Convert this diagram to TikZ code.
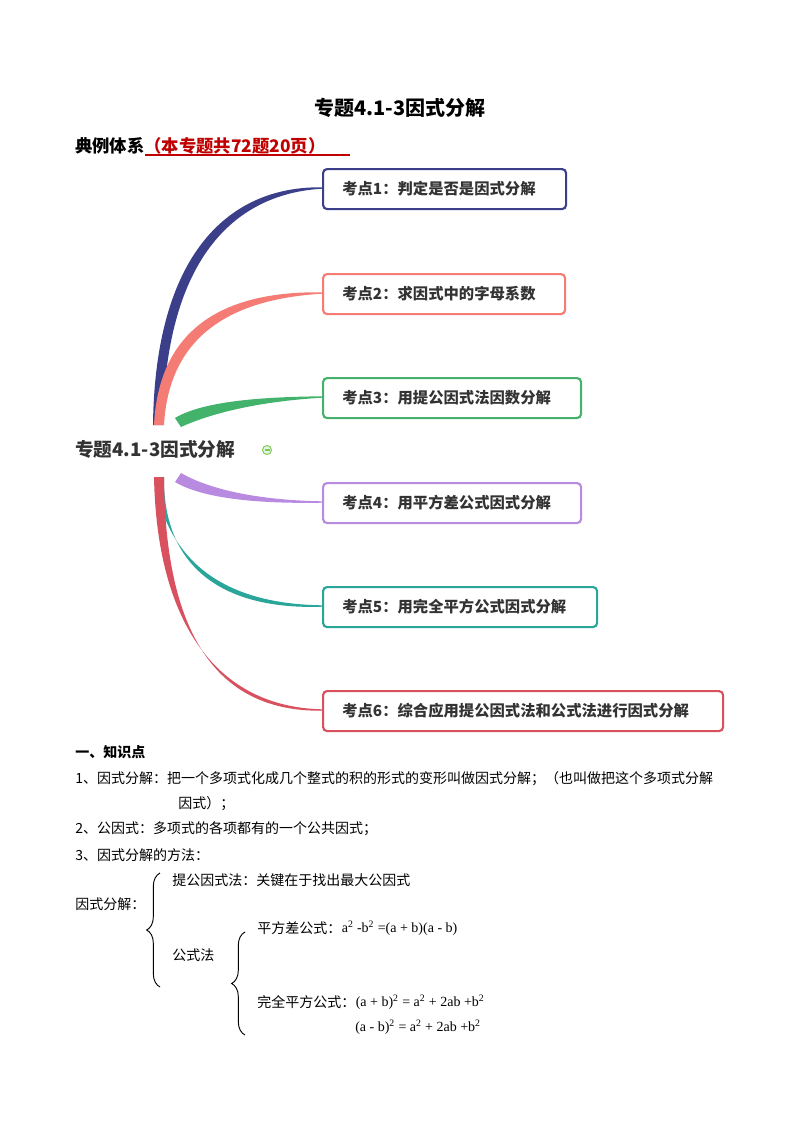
\documentclass[tikz,border=0pt]{standalone}
\usepackage{fontspec}
\setmainfont{Liberation Serif}
\newfontfamily\cjk{Noto Sans CJK SC}
\usetikzlibrary{decorations.pathreplacing}
\definecolor{cA}{HTML}{3B3F8A}
\definecolor{cB}{HTML}{F47C74}
\definecolor{cC}{HTML}{43B36B}
\definecolor{cD}{HTML}{B98BE0}
\definecolor{cE}{HTML}{2AA59A}
\definecolor{cF}{HTML}{D9505F}
\definecolor{tx}{HTML}{333333}
\definecolor{rd}{HTML}{C00000}
\begin{document}
\begin{tikzpicture}[x=0.75pt,y=-0.75pt,
  kbox/.style={draw=#1,line width=1.6pt,rounded corners=3pt,fill=white,anchor=north west,inner sep=0pt,font=\cjk\bfseries\fontsize{11.5}{13}\selectfont,text=tx},
  body/.style={anchor=west,inner sep=0pt,font=\cjk\fontsize{10.5}{12}\selectfont},
  math/.style={anchor=west,inner sep=0pt,font=\fontsize{10.5}{12}\selectfont}]
\useasboundingbox (0,0) rectangle (800,1132);
\node[anchor=center,font=\cjk\bfseries\fontsize{15}{18}\selectfont] (title) at (400,108) {专题4.1-3因式分解};
\node[anchor=west,inner sep=0pt,font=\cjk\bfseries\fontsize{13}{15}\selectfont] (sys) at (75,146) {典例体系\textcolor{rd}{（本专题共72题20页）}};
\draw[rd,line width=0.8pt] (145,155) -- (350,155);
% branches
\fill[cA] (153,425) .. controls (155,255) and (228,186) .. (322,187.3) -- (322,188.7) .. controls (232,194) and (165,262) .. (163,425) -- cycle;
\fill[cB] (154,425) .. controls (159,325) and (228,291) .. (322,292.3) -- (322,293.7) .. controls (232,299) and (169,335) .. (164,425) -- cycle;
\fill[cC] (175,418) .. controls (200,403) and (250,397) .. (322,396.3) -- (322,397.7) .. controls (250,402) and (205,416) .. (181,427) -- cycle;
\fill[cD] (181,473) .. controls (205,487) and (250,500) .. (322,501.3) -- (322,502.7) .. controls (250,504) and (200,497) .. (175,482) -- cycle;
\fill[cE] (154,477) .. controls (167,565) and (228,604) .. (322,605.3) -- (322,606.7) .. controls (226,610) and (163,570) .. (164,477) -- cycle;
\fill[cF] (154,477) .. controls (157,625) and (218,707) .. (322,709.3) -- (322,710.7) .. controls (214,712) and (165,630) .. (164,477) -- cycle;
\node[anchor=west,inner sep=0pt,font=\cjk\bfseries\fontsize{14}{16}\selectfont,text=tx] (root) at (75,449) {专题4.1-3因式分解};
\draw[cC!70!yellow,line width=0.7pt,fill=cC!15] (267,450) circle (4.5);
\draw[cC!70!yellow,line width=0.8pt] (264.5,450) -- (269.5,450);
\node[kbox=cA,minimum width=243*0.75pt,minimum height=40*0.75pt] (k1) at (322,168) {};
\node[kbox=cB,minimum width=242*0.75pt,minimum height=40*0.75pt] (k2) at (322,273) {};
\node[kbox=cC,minimum width=258*0.75pt,minimum height=40*0.75pt] (k3) at (322,377) {};
\node[kbox=cD,minimum width=258*0.75pt,minimum height=40*0.75pt] (k4) at (322,482) {};
\node[kbox=cE,minimum width=274*0.75pt,minimum height=40*0.75pt] (k5) at (322,586) {};
\node[kbox=cF,minimum width=400*0.75pt,minimum height=40*0.75pt] (k6) at (322,690) {};
\foreach \n/\t in {k1/考点1：判定是否是因式分解,k2/考点2：求因式中的字母系数,k3/考点3：用提公因式法因数分解,k4/考点4：用平方差公式因式分解,k5/考点5：用完全平方公式因式分解,k6/考点6：综合应用提公因式法和公式法进行因式分解}
  \node[anchor=west,inner sep=0pt,font=\cjk\bfseries\fontsize{11.5}{13}\selectfont,text=tx] at ([xshift=15pt]\n.west) {\t};
% text section
\node[anchor=west,inner sep=0pt,font=\cjk\bfseries\fontsize{10.5}{12}\selectfont] (h1) at (75,752) {一、知识点};
\node[body] (l1) at (75,779) {1、因式分解：把一个多项式化成几个整式的积的形式的变形叫做因式分解；（也叫做把这个多项式分解};
\node[body] (l1b) at (178,804) {因式）；};
\node[body] (l2) at (75,829) {2、公因式：多项式的各项都有的一个公共因式；};
\node[body] (l3) at (75,855) {3、因式分解的方法：};
\node[body] (a1) at (172,880) {提公因式法：关键在于找出最大公因式};
\node[body] (a0) at (75,904) {因式分解：};
\node[body] (a2) at (172,955) {公式法};
\node[body] (b1) at (257,928) {平方差公式：};
\node[math] (b1m) at (b1.east) {a\textsuperscript{2} -b\textsuperscript{2} =(a + b)(a - b)};
\node[body] (b2) at (257,1002) {完全平方公式：};
\node[math] (b2m) at (b2.east) {(a + b)\textsuperscript{2} = a\textsuperscript{2} + 2ab +b\textsuperscript{2}};
\node[math] (b3m) at (355,1027) {(a - b)\textsuperscript{2} = a\textsuperscript{2} + 2ab +b\textsuperscript{2}};
\draw[line width=0.7pt,decorate,decoration={brace,amplitude=10pt}] (160,987) -- (160,873);
\draw[line width=0.7pt,decorate,decoration={brace,amplitude=10pt}] (245,1035) -- (245,932);
\end{tikzpicture}
\end{document}
